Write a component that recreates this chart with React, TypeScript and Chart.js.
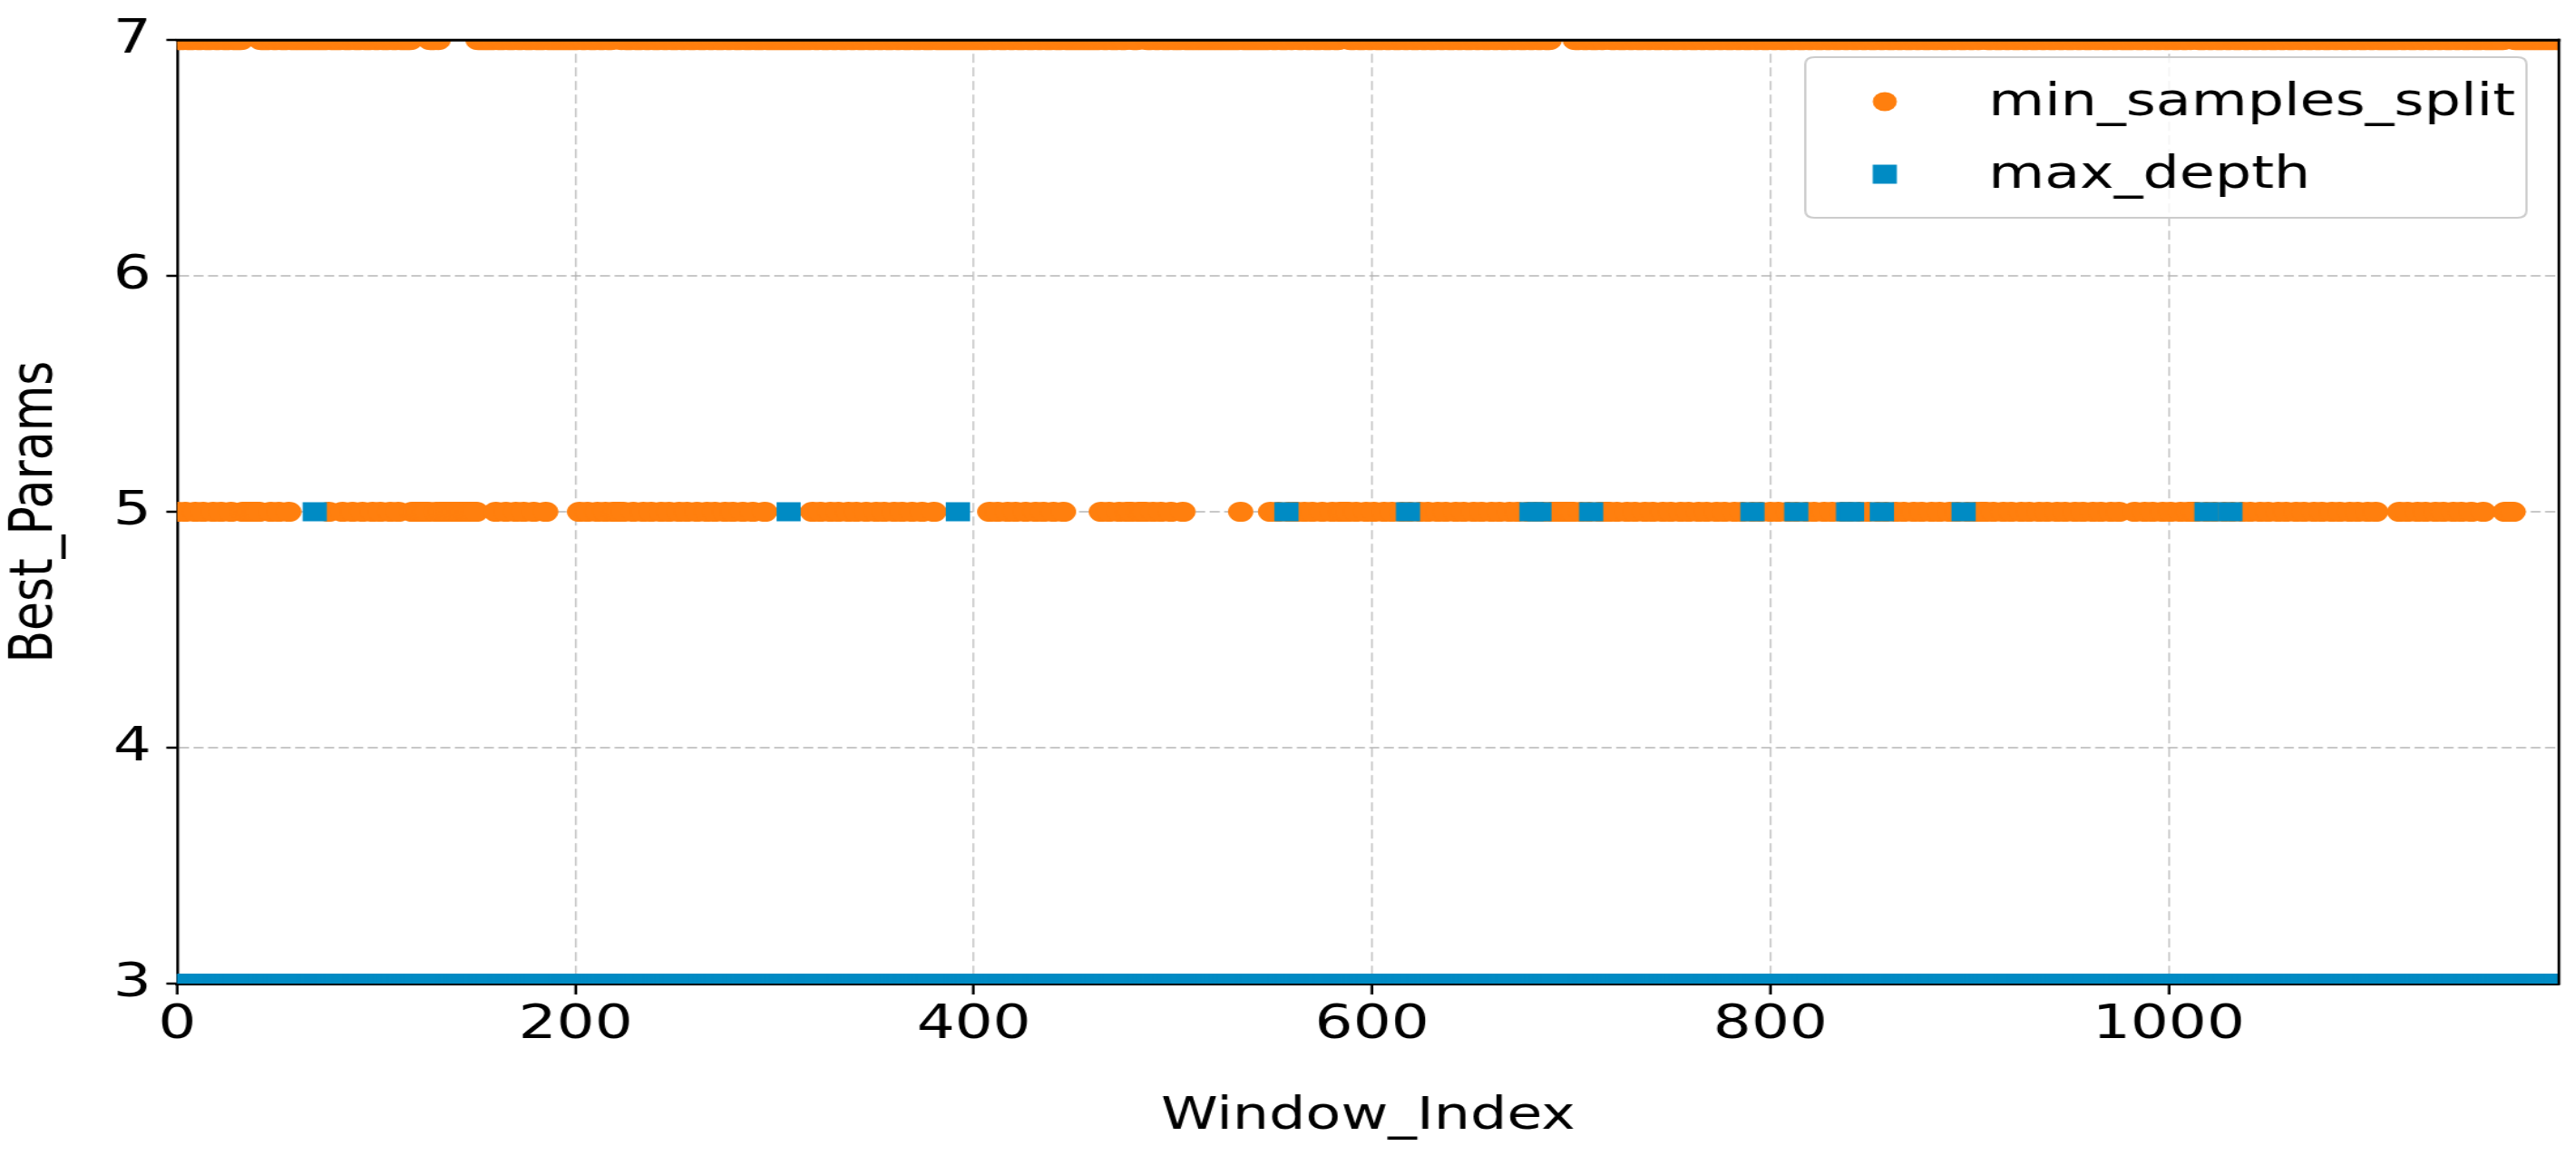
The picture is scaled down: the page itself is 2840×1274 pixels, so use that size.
import React, { useEffect, useRef } from 'react';
import { Chart, registerables } from 'chart.js';

Chart.register(...registerables);

// ---------------- data ----------------
const windowCount = 1197; // Window_Index 0 .. 1196
const xTickValues = [0, 200, 400, 600, 800, 1000];
const yTickValues = [3, 4, 5, 6, 7];

const seriesLabels = ['min_samples_split', 'max_depth'];
const xTitle = 'Window_Index';
const yTitle = 'Best_Params';

// min_samples_split: 7 for most windows, 5 for the windows listed below
const splitMainValue = 7;
const splitAltValue = 5;
const splitAltWindows = [
  0, 4, 9, 13, 18, 22, 27, 33, 34, 35, 36, 37, 38, 39, 40, 41, 47, 51, 56,
  76, 83, 88, 93, 98, 102, 107, 111, 118, 119, 120, 121, 122, 123, 124, 125, 126,
  130, 132, 133, 134, 135, 136, 137, 138, 139, 140, 141, 142, 143, 144, 145, 146, 147, 148, 149, 150,
  160, 165, 170, 174, 179, 185,
  202, 206, 211, 215, 219, 220, 221, 222, 224, 229, 234, 238, 243, 247, 252, 256, 261, 266,
  270, 275, 279, 284, 289, 295,
  319, 323, 328, 332, 337, 341, 346, 351, 355, 360, 364, 369, 374, 380,
  408, 412, 417, 421, 426, 431, 435, 440, 445,
  464, 468, 473, 477, 478, 479, 483, 484, 485, 486, 490, 494, 499, 505,
  534,
  549, 553, 558, 561, 562, 566, 570, 575, 580, 584, 585, 586, 587, 588, 592, 597, 601, 606,
  610, 615, 619, 624, 628, 633, 637, 642, 646, 651, 655, 660, 664, 669, 673, 678, 682, 686,
  690, 691, 692, 693, 694, 695, 696, 697, 698, 699, 700, 701, 705, 709, 714, 717, 718, 719,
  723, 728, 732, 737, 741, 746, 750, 755, 759, 764, 768, 773, 777, 782, 786, 791, 795, 800,
  804, 809, 813, 818, 822, 827, 831, 836, 840, 845, 849, 854, 858, 863, 867, 872, 876, 881,
  885, 890, 894, 899, 903, 906, 907, 908, 912, 917, 921, 926, 930, 935, 939, 944, 948, 953,
  957, 962, 966, 971, 975, 983, 988, 992, 997, 1001, 1006, 1010, 1012, 1013, 1014, 1019,
  1023, 1028, 1032, 1037, 1041, 1046, 1050, 1055, 1059, 1064, 1068, 1073, 1077, 1082, 1086,
  1091, 1095, 1100, 1104, 1116, 1120, 1125, 1129, 1134, 1138, 1143, 1147, 1152, 1158,
  1169, 1170, 1171, 1172, 1173,
];

// max_depth: 3 for most windows, 5 for the windows listed below
const depthMainValue = 3;
const depthAltValue = 5;
const depthAltWindows = [69, 307, 392, 557, 618, 680, 684, 710, 791, 813, 839, 841, 856, 897, 1019, 1031];

// ---------------- styling / layout ----------------
const CANVAS_W = 2236; // drawn narrower, then stretched horizontally like the reference
const CANVAS_H = 1274;
const DISPLAY_W = 2840;
const FONT = "'DejaVu Sans', 'Liberation Sans', sans-serif";
const ORANGE = '#ff7f0e';
const BLUE = '#008bc4';
const GRID = 'rgba(176,176,176,0.7)';

const windowIndices = Array.from({ length: windowCount }, (_, i) => i);
const splitAltSet = new Set(splitAltWindows);
const depthAltSet = new Set(depthAltWindows);
const splitPoints = windowIndices.map((i) => ({ x: i, y: splitAltSet.has(i) ? splitAltValue : splitMainValue }));
const depthPoints = windowIndices.map((i) => ({ x: i, y: depthAltSet.has(i) ? depthAltValue : depthMainValue }));

const framePlugin = {
  id: 'frameSpines',
  afterDraw(chart: any) {
    const { ctx, chartArea: a } = chart;
    ctx.save();
    ctx.strokeStyle = '#000';
    ctx.lineWidth = 3;
    ctx.beginPath();
    ctx.moveTo(a.left - 1.2, a.top);
    ctx.lineTo(a.right + 1.2, a.top);
    ctx.stroke();
    ctx.lineWidth = 2.4;
    ctx.beginPath();
    ctx.moveTo(a.right, a.top - 1.5);
    ctx.lineTo(a.right, a.bottom + 1.5);
    ctx.stroke();
    ctx.restore();
  },
};

const legendPlugin = {
  id: 'boxedLegend',
  afterDraw(chart: any) {
    const ctx = chart.ctx;
    const bx = 1567, by = 63, bw = 626, bh = 177, r = 8;
    ctx.save();
    ctx.beginPath();
    ctx.moveTo(bx + r, by);
    ctx.lineTo(bx + bw - r, by);
    ctx.quadraticCurveTo(bx + bw, by, bx + bw, by + r);
    ctx.lineTo(bx + bw, by + bh - r);
    ctx.quadraticCurveTo(bx + bw, by + bh, bx + bw - r, by + bh);
    ctx.lineTo(bx + r, by + bh);
    ctx.quadraticCurveTo(bx, by + bh, bx, by + bh - r);
    ctx.lineTo(bx, by + r);
    ctx.quadraticCurveTo(bx, by, bx + r, by);
    ctx.closePath();
    ctx.fillStyle = 'rgba(255,255,255,0.8)';
    ctx.fill();
    ctx.strokeStyle = '#cccccc';
    ctx.lineWidth = 2;
    ctx.stroke();

    const mx = 1636;
    const rowsY = [112, 192];
    const baseY = [127, 207];
    ctx.fillStyle = ORANGE;
    ctx.beginPath();
    ctx.arc(mx, rowsY[0], 10.5, 0, Math.PI * 2);
    ctx.fill();
    ctx.fillStyle = BLUE;
    ctx.fillRect(mx - 10.5, rowsY[1] - 10.5, 21, 21);

    ctx.fillStyle = '#000';
    ctx.font = `50px ${FONT}`;
    ctx.textAlign = 'left';
    ctx.textBaseline = 'alphabetic';
    ctx.fillText(seriesLabels[0], 1726, baseY[0]);
    ctx.fillText(seriesLabels[1], 1726, baseY[1]);
    ctx.restore();
  },
};

export default function App() {
  const canvasRef = useRef<HTMLCanvasElement | null>(null);

  useEffect(() => {
    document.body.style.margin = '0';
    const canvas = canvasRef.current;
    if (!canvas) return;
    const chart = new Chart(canvas, {
      type: 'scatter',
      data: {
        datasets: [
          {
            label: seriesLabels[0],
            data: splitPoints,
            backgroundColor: ORANGE,
            borderWidth: 0,
            pointStyle: 'circle',
            pointRadius: 11,
            pointHoverRadius: 11,
            clip: 0,
            order: 1,
          },
          {
            label: seriesLabels[1],
            data: depthPoints,
            backgroundColor: BLUE,
            borderWidth: 0,
            pointStyle: 'rect',
            pointRadius: 14.85,
            pointHoverRadius: 14.85,
            clip: 0,
            order: 0,
          },
        ],
      },
      options: {
        animation: false,
        responsive: false,
        devicePixelRatio: 1,
        events: [],
        layout: { padding: { top: 37, right: 14.8, left: 0, bottom: 0 } },
        plugins: {
          legend: { display: false },
          tooltip: { enabled: false },
        },
        scales: {
          x: {
            type: 'linear',
            min: 0,
            max: windowCount - 1,
            z: 1,
            afterFit: (s: any) => {
              s.height = 190;
            },
            afterBuildTicks: (s: any) => {
              s.ticks = xTickValues.map((value) => ({ value }));
            },
            ticks: {
              padding: 3,
              color: '#000',
              maxRotation: 0,
              autoSkip: false,
              font: { family: FONT, size: 52 },
              callback: (v: any) => String(v),
            },
            grid: {
              color: GRID,
              lineWidth: 1.6,
              tickLength: 12,
              tickWidth: 2.4,
              tickColor: '#000',
              tickBorderDash: [],
            },
            border: { display: true, color: '#000', width: 3, dash: [10, 5] },
            title: {
              display: true,
              text: xTitle,
              color: '#000',
              font: { family: FONT, size: 50 },
              padding: { top: 0, bottom: 13 },
            },
          },
          y: {
            type: 'linear',
            min: yTickValues[0],
            max: yTickValues[yTickValues.length - 1],
            z: 1,
            afterFit: (s: any) => {
              s.width = 153.9;
            },
            afterBuildTicks: (s: any) => {
              s.ticks = yTickValues.map((value) => ({ value }));
            },
            ticks: {
              padding: 13,
              color: '#000',
              autoSkip: false,
              font: { family: FONT, size: 52 },
              callback: (v: any) => String(v),
            },
            grid: {
              color: GRID,
              lineWidth: 2,
              tickLength: 9.5,
              tickWidth: 2.5,
              tickColor: '#000',
              tickBorderDash: [],
            },
            border: { display: true, color: '#000', width: 2.4, dash: [8.7, 3.9] },
            title: {
              display: true,
              text: yTitle,
              color: '#000',
              font: { family: FONT, size: 52 },
              padding: { top: 0, bottom: 0 },
            },
          },
        },
      },
      plugins: [framePlugin, legendPlugin],
    } as any);
    return () => {
      chart.destroy();
    };
  }, []);

  return (
    <div style={{ position: 'fixed', left: 0, top: 0, width: DISPLAY_W, height: CANVAS_H, background: '#fff' }}>
      <canvas
        ref={canvasRef}
        width={CANVAS_W}
        height={CANVAS_H}
        style={{ width: `${DISPLAY_W}px`, height: `${CANVAS_H}px`, display: 'block' }}
      />
    </div>
  );
}
